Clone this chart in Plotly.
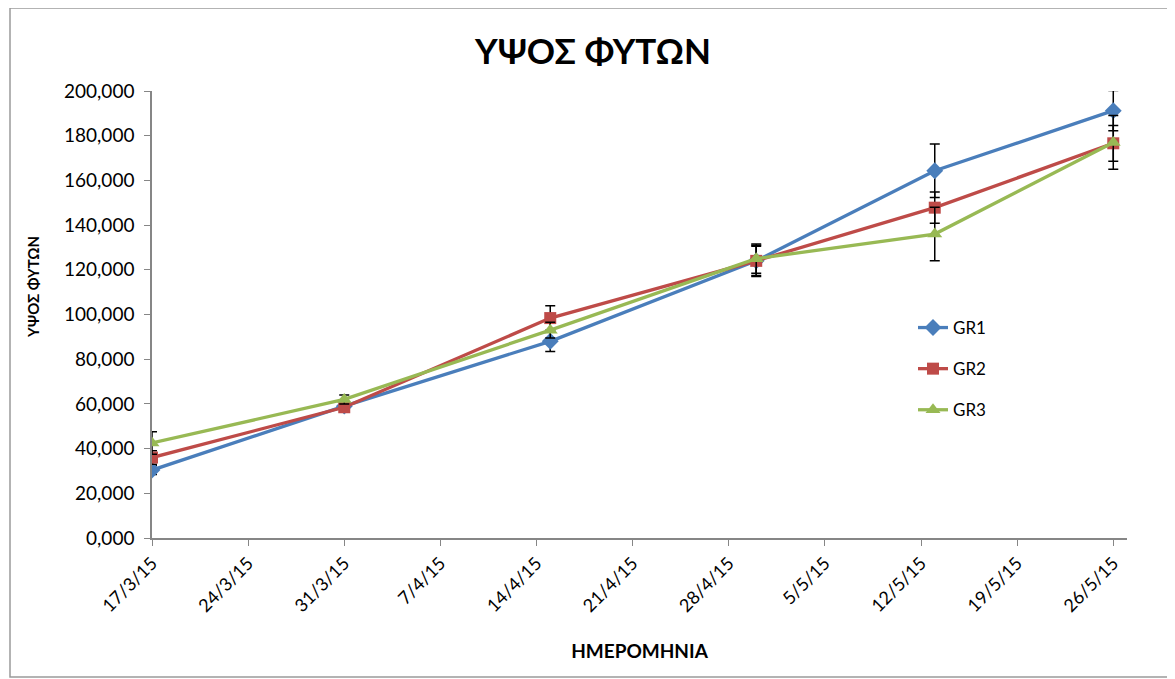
import plotly.graph_objects as go

dates = ["2015-03-17", "2015-03-31", "2015-04-15", "2015-04-30", "2015-05-13", "2015-05-26"]
gr1 = [30.4, 59.0, 88.0, 124.0, 164.3, 191.2]
gr2 = [36.0, 58.5, 98.4, 124.0, 147.8, 176.6]
gr3 = [42.5, 62.0, 93.0, 125.0, 136.0, 177.0]
gr1_err = [2.0, 2.0, 4.5, 6.5, 12.0, 9.0]
gr2_err = [3.0, 2.0, 5.5, 7.0, 7.0, 8.0]
gr3_err = [5.0, 2.0, 3.5, 6.5, 12.0, 12.0]

series = [
    ("GR1", gr1, gr1_err, "#4A7EBB", "diamond", 13),
    ("GR2", gr2, gr2_err, "#BE4B48", "square", 12),
    ("GR3", gr3, gr3_err, "#98B954", "triangle-up", 13),
]

fig = go.Figure()
for name, vals, err, color, sym, ms in series:
    fig.add_trace(go.Scatter(
        x=dates, y=vals, name=name, mode="lines+markers", legendgroup=name,
        line=dict(color=color, width=3.3),
        marker=dict(symbol=sym, size=ms, color=color),
        error_y=dict(type="data", array=err, visible=True, color="black", thickness=1.5, width=5),
    ))

font = "Lato, 'Open Sans', sans-serif"
OFF = 8  # page body margin
W, H = 1175 - OFF, 679 - OFF
L, R, T, B = 152 - OFF, 1127 - OFF, 91 - OFF, 538 - OFF
pw, ph = R - L, B - T

def px(X):
    return (X - OFF - L) / pw

def py(Y):
    return (B - (Y - OFF)) / ph

fig.update_layout(
    width=W, height=H,
    margin=dict(l=L, r=W - R, t=T, b=H - B),
    paper_bgcolor="white", plot_bgcolor="white",
    separators=",.",
    font=dict(family=font, color="black"),
    title=dict(text="<b>ΥΨΟΣ ΦΥΤΩΝ</b>", x=(593 - OFF) / W, xref="container",
               y=1 - (52 - OFF) / H, yref="container", xanchor="center", yanchor="middle",
               font=dict(size=35, family=font, color="black")),
    xaxis=dict(
        type="date", range=["2015-03-17", "2015-05-27"],
        tick0="2015-03-17", dtick=7 * 86400000, tickformat="%-d/%-m/%y",
        tickangle=-45, ticks="outside", ticklen=6, tickcolor="#868686",
        showline=True, linecolor="#868686", linewidth=1.5, showgrid=False, zeroline=False,
        tickfont=dict(size=18, family=font),
        title=dict(text="<b>ΗΜΕΡΟΜΗΝΙΑ</b>", font=dict(size=19, family=font), standoff=30),
    ),
    yaxis=dict(
        range=[0, 200], dtick=20, tickformat=".3f",
        ticks="outside", ticklen=6, tickcolor="#868686",
        showline=True, linecolor="#868686", linewidth=1.5, showgrid=False, zeroline=False,
        tickfont=dict(size=19, family=font), ticklabelstandoff=6,
    ),
    annotations=[dict(text="<b>ΥΨΟΣ ΦΥΤΩΝ</b>", textangle=-90, xref="paper", yref="paper",
                      x=px(33), y=py(287), xanchor="center", yanchor="middle", showarrow=False,
                      font=dict(size=15, family=font, color="black"))],
    legend=dict(x=px(913), y=py(310), xanchor="left", yanchor="top",
                bgcolor="rgba(0,0,0,0)", font=dict(size=17, family=font),
                tracegroupgap=16),
    shapes=[dict(type="rect", xref="paper", yref="paper",
                 x0=px(10), x1=px(1169), y0=py(677), y1=py(8),
                 line=dict(color="#9a9a9a", width=1.5), fillcolor="rgba(0,0,0,0)", layer="below")],
)

fig.write_html("out.html")
